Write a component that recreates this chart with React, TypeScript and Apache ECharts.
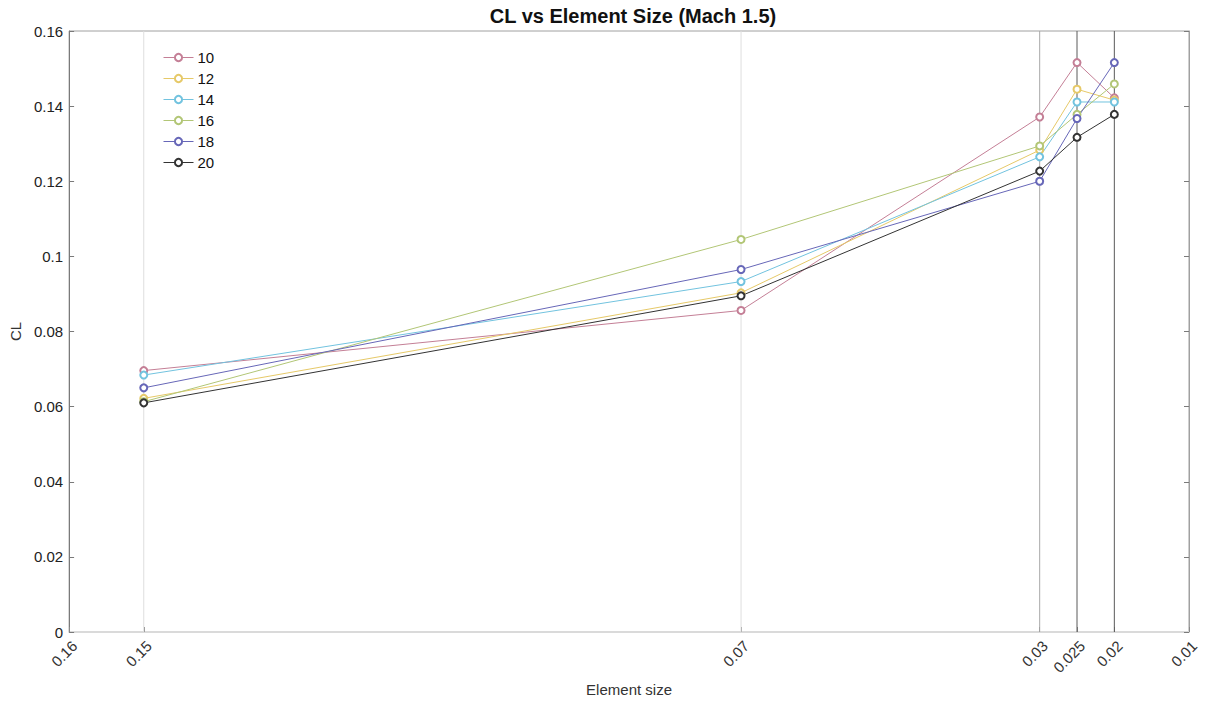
import React, { useEffect, useRef } from "react";
import * as echarts from "echarts";

const elementSizes = [0.15, 0.07, 0.03, 0.025, 0.02];
const xTickValues = [0.16, 0.15, 0.07, 0.03, 0.025, 0.02, 0.01];
const seriesNames = ["10", "12", "14", "16", "18", "20"];
const cl10 = [0.0696, 0.0856, 0.1371, 0.1516, 0.1422];
const cl12 = [0.0622, 0.0903, 0.1283, 0.1445, 0.1416];
const cl14 = [0.0684, 0.0933, 0.1265, 0.1411, 0.1411];
const cl16 = [0.0613, 0.1045, 0.1294, 0.1378, 0.1459];
const cl18 = [0.065, 0.0965, 0.12, 0.1367, 0.1516];
const cl20 = [0.061, 0.0895, 0.1227, 0.1317, 0.1378];
const seriesValues = [cl10, cl12, cl14, cl16, cl18, cl20];
const seriesColors = ["#c47f96", "#e6c968", "#72c3df", "#b2c676", "#6767b8", "#333333"];
const yRange = [0, 0.16];
const lightLines = [0.15, 0.07];
const midLines = [0.03];
const darkLines = [0.025, 0.02];

const FONT = "'Liberation Sans', Arial, Helvetica, sans-serif";

function vLine(v: number, color: string) {
  return {
    id: "v" + v,
    type: "line",
    data: yRange.map((y) => [v, y]),
    symbol: "none",
    silent: true,
    z: 1,
    lineStyle: { color, width: 1 },
    emphasis: { disabled: true },
    tooltip: { show: false },
  };
}

export default function App() {
  const ref = useRef<HTMLDivElement>(null);
  useEffect(() => {
    if (!ref.current) return;
    const chart = echarts.init(ref.current, null, { renderer: "svg" });
    const lines = seriesNames.map((name, i) => ({
      name,
      type: "line",
      data: elementSizes.map((x, j) => [x, seriesValues[i][j]]),
      symbol: "emptyCircle",
      symbolSize: 7,
      showSymbol: true,
      color: seriesColors[i],
      lineStyle: { width: 1, color: seriesColors[i] },
      itemStyle: { color: seriesColors[i], borderColor: seriesColors[i], borderWidth: 1 },
      z: 3,
    }));
    const option = {
      animation: false,
      backgroundColor: "#ffffff",
      textStyle: { fontFamily: FONT },
      title: {
        text: "CL vs Element Size (Mach 1.5)",
        left: 628,
        textAlign: "center",
        top: 1,
        textStyle: { fontFamily: FONT, fontSize: 20, fontWeight: "bold", color: "#111" },
      },
      legend: {
        orient: "vertical",
        left: 163,
        top: 50,
        padding: 0,
        itemWidth: 30,
        itemHeight: 9,
        itemGap: 6,
        data: seriesNames,
        lineStyle: { width: 1 },
        itemStyle: { borderWidth: 1 },
        textStyle: { fontFamily: FONT, fontSize: 15, color: "#111", padding: [0, 0, 0, -1] },
      },
      grid: {
        left: 68,
        right: 19,
        top: 31,
        bottom: 75,
        show: true,
        borderColor: "#a0a0a0",
        borderWidth: 1,
        backgroundColor: "transparent",
      },
      xAxis: {
        type: "value",
        inverse: true,
        min: 0.01,
        max: 0.16,
        name: "Element size",
        nameLocation: "middle",
        nameGap: 50,
        nameTextStyle: { fontFamily: FONT, fontSize: 15, color: "#333" },
        axisLine: { show: true, lineStyle: { color: "#dadada", width: 2 } },
        axisTick: { show: true, inside: true, length: 5, customValues: xTickValues, lineStyle: { color: "#888" } },
        axisLabel: {
          customValues: xTickValues,
          rotate: 45,
          margin: 6,
          verticalAlign: "top",
          fontFamily: FONT,
          fontSize: 15,
          color: "#333",
          formatter: (v: number) => String(v),
        },
        splitLine: { show: false },
      },
      yAxis: [
        {
          type: "value",
          min: 0,
          max: 0.16,
          interval: 0.02,
          name: "CL",
          nameLocation: "middle",
          nameGap: 45,
          nameRotate: 90,
          nameTextStyle: { fontFamily: FONT, fontSize: 15, color: "#333" },
          axisLine: { show: true, lineStyle: { color: "#7a7a7a", width: 1 } },
          axisTick: { show: true, inside: true, length: 5, lineStyle: { color: "#7a7a7a" } },
          axisLabel: {
            fontFamily: FONT,
            fontSize: 15,
            color: "#222",
            margin: 6,
            formatter: (v: number) => String(Math.round(v * 100) / 100),
          },
          splitLine: { show: false },
        },
        {
          type: "value",
          position: "right",
          min: 0,
          max: 0.16,
          interval: 0.02,
          axisLine: { show: true, lineStyle: { color: "#a0a0a0", width: 1 } },
          axisTick: { show: true, inside: true, length: 5, lineStyle: { color: "#7a7a7a" } },
          axisLabel: { show: false },
          splitLine: { show: false },
        },
      ],
      series: [
        ...lightLines.map((v) => vLine(v, "#dedede")),
        ...midLines.map((v) => vLine(v, "#a8a8a8")),
        ...darkLines.map((v) => vLine(v, "#5a5a5a")),
        ...lines,
      ],
    };
    chart.setOption(option as any);
    return () => chart.dispose();
  }, []);
  return <div ref={ref} style={{ width: 1208, height: 707, margin: -8 }} />;
}
